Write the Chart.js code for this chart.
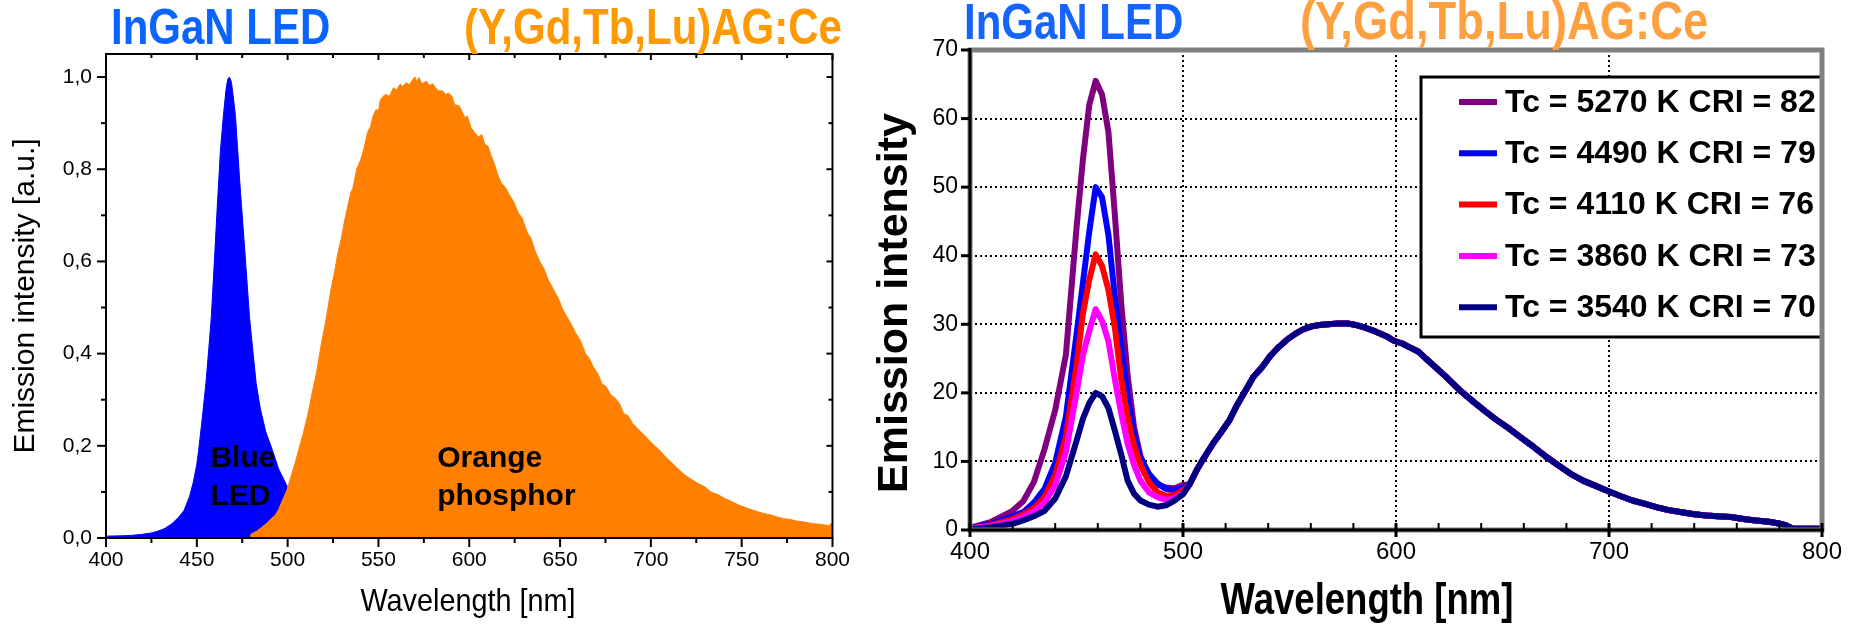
<!DOCTYPE html>
<html>
<head>
<meta charset="utf-8">
<script src="https://cdn.jsdelivr.net/npm/chart.js@4.4.1/dist/chart.umd.min.js"></script>
<style>
  html, body { margin: 0; padding: 0; background: #fff; }
  body { width: 1854px; height: 624px; position: relative; overflow: hidden; }
  canvas { position: absolute; top: 0; }
  #ledChart { left: 0; }
  #cctChart { left: 860px; }
</style>
</head>
<body>
<canvas id="ledChart" width="860" height="624"></canvas>
<canvas id="cctChart" width="994" height="624"></canvas>
<script>
(function () {
    'use strict';

    var SANS = "'Liberation Sans', Arial, sans-serif";

    // ── 左圖：晶片與螢光粉的歸一化發光光譜 ─────────────────
    var blueWl  = [400, 410, 415, 420, 425, 428, 432, 436, 440, 443, 446, 448, 450, 451, 453, 455, 457, 458,
                   460, 461, 462, 463, 464.6, 466, 467, 468, 469, 470, 471.3, 473.7, 476.4, 479, 481, 482.7,
                   485, 488, 491.7, 495, 500, 505, 510, 518, 530, 545, 560, 600];
    var blueVal = [0.004, 0.005, 0.006, 0.008, 0.011, 0.014, 0.02, 0.03, 0.045, 0.06, 0.09, 0.12, 0.16, 0.19,
                   0.26, 0.335, 0.43, 0.48, 0.625, 0.70, 0.77, 0.84, 0.915, 0.97, 0.995, 1.0, 0.99, 0.96, 0.915,
                   0.77, 0.625, 0.48, 0.40, 0.335, 0.28, 0.23, 0.19, 0.15, 0.11, 0.075, 0.05, 0.03, 0.012,
                   0.004, 0.001, 0];

    var orangeWl  = [479.6, 479.7, 483, 486, 489, 491, 493.3, 495, 497, 499.6, 502, 504.1, 506, 508.6, 511,
                     513.1, 516, 518.5, 521, 523.9, 526, 527.5, 529.4, 532, 534.8, 536, 538, 540.2, 542, 544,
                     545.7, 547, 548.8, 550, 551.1, 553, 554.2, 556, 558.3, 560, 562, 563.3, 565.6, 567, 569,
                     570.1, 571, 572.3, 574, 576.4, 578, 580, 581.4, 583, 585.4, 587, 588.5, 590.4, 592, 594.5,
                     596, 597.6, 599, 601, 603.1, 605, 607, 608.5, 610.3, 612, 614, 615.5, 617.6, 620, 622,
                     624.8, 627, 629, 632, 634, 636.5, 639.3, 641, 643.5, 646.5, 649, 651, 653.7, 656, 658.5,
                     661, 664, 666, 668.2, 671, 673, 675.4, 678, 680, 682.7, 685, 687.5, 689.9, 692, 694.5,
                     696, 698.9, 702, 705, 708, 711, 715, 718.8, 722, 726, 729.7, 733, 737, 740.5, 744, 748,
                     751.4, 755, 758, 762.2, 766, 770, 773.1, 777, 780, 783.9, 788, 792, 795, 798.4, 799, 800];
    var orangeVal = [0, 0.008, 0.015, 0.024, 0.034, 0.042, 0.05, 0.062, 0.08, 0.104, 0.135, 0.162, 0.19, 0.227,
                     0.265, 0.307, 0.36, 0.42, 0.47, 0.54, 0.58, 0.615, 0.647, 0.70, 0.749, 0.76, 0.80, 0.82,
                     0.845, 0.88, 0.893, 0.915, 0.93, 0.925, 0.951, 0.96, 0.962, 0.958, 0.977, 0.972, 0.985,
                     0.98, 0.988, 0.983, 0.995, 1.0, 0.99, 0.999, 0.985, 0.991, 0.982, 0.985, 0.977, 0.97,
                     0.97, 0.962, 0.965, 0.959, 0.94, 0.937, 0.925, 0.912, 0.915, 0.89, 0.879, 0.87, 0.875,
                     0.855, 0.85, 0.83, 0.81, 0.79, 0.77, 0.76, 0.745, 0.727, 0.705, 0.695, 0.662, 0.65, 0.62,
                     0.596, 0.585, 0.56, 0.538, 0.52, 0.50, 0.48, 0.465, 0.445, 0.43, 0.40, 0.39, 0.372, 0.355,
                     0.335, 0.328, 0.31, 0.305, 0.292, 0.27, 0.265, 0.249, 0.24, 0.23, 0.225, 0.212, 0.20,
                     0.19, 0.176, 0.165, 0.15, 0.136, 0.128, 0.118, 0.111, 0.10, 0.094, 0.086, 0.08, 0.072,
                     0.067, 0.062, 0.058, 0.053, 0.05, 0.045, 0.042, 0.04, 0.037, 0.035, 0.032, 0.03, 0.029,
                     0.026, 0.032, 0.024];

    var leftXTicks = [400, 450, 500, 550, 600, 650, 700, 750, 800];
    var leftXMinor = [425, 475, 525, 575, 625, 675, 725, 775];
    var leftYTicks = [0, 0.2, 0.4, 0.6, 0.8, 1.0];
    var leftYMinor = [0.1, 0.3, 0.5, 0.7, 0.9];

    var noteText = ['Blue', 'LED', 'Orange', 'phosphor'];
    var noteX    = [457.5, 457.5, 582.4, 582.4];
    var noteY    = [0.154, 0.071, 0.154, 0.071];

    // ── 右圖：五種色溫白光 LED 的光譜 ───────────────────────
    var peakWl   = [400, 410, 420, 425, 430, 435, 440, 445, 450, 453, 456, 459, 462, 465, 468, 471, 474, 477,
                    480, 484, 488, 492, 496, 500];
    var peak5270 = [0.3, 1.2, 2.8, 4.2, 7, 11.8, 17.5, 25.5, 44, 54, 62, 65.5, 63.5, 58, 46, 33, 22.5, 15,
                    10.8, 8, 6.6, 6.2, 6.1, 6.6];
    var peak4490 = [0.3, 0.9, 2, 2.6, 4, 6, 9.8, 16.5, 28.5, 36, 43.5, 50, 48.5, 43, 34, 26.6, 19.5, 14,
                    10.5, 8.2, 6.8, 6, 5.8, 6.2];
    var peak4110 = [0.2, 0.7, 1.6, 2.3, 3.2, 4.8, 8, 13.5, 24, 31.5, 36.5, 40.2, 38.5, 35, 29.5, 22, 16.5,
                    12.3, 9.5, 7, 5.5, 5, 5.1, 5.8];
    var peak3860 = [0.2, 0.6, 1.3, 1.9, 2.7, 4, 6.5, 11.3, 20, 25.5, 29, 32.2, 30.5, 27.5, 22, 17, 12.6, 9.5,
                    7.2, 5.5, 4.8, 4.4, 4.6, 5.4];
    var peak3540 = [0.1, 0.4, 0.9, 1.4, 2, 2.8, 4.6, 7.8, 13, 16.2, 18.5, 20, 19.5, 17.8, 14.5, 11, 7.2, 5.3,
                    4.3, 3.7, 3.4, 3.6, 4.3, 5.2];

    // 黃光段五條曲線幾乎重合，共用一組讀值
    var tailWl  = [503, 506.4, 510, 514.1, 518, 521.8, 525, 529.5, 533, 537.3, 541, 545, 549, 552.7, 556,
                   560.4, 564, 568.1, 573, 577.8, 581, 585.5, 590, 595.2, 599, 602.9, 606, 610.6, 614, 618.3,
                   624, 629.9, 636, 641.5, 647, 653.1, 659, 664.7, 670, 676.3, 682, 687.8, 694, 699.4, 705,
                   711, 717, 722.6, 728, 734.2, 740, 745.7, 751, 757.3, 763, 768.9, 775, 780.5, 783, 786.3,
                   790, 795, 800];
    var tailVal = [6.6, 8.7, 10.6, 12.6, 14.3, 16, 18, 20.4, 22.3, 23.8, 25.4, 26.7, 27.8, 28.6, 29.2, 29.7,
                   29.9, 30, 30.1, 30.1, 29.9, 29.5, 29, 28.3, 27.6, 27.2, 26.7, 26, 25, 23.8, 22.2, 20.4,
                   18.8, 17.4, 16.1, 14.8, 13.4, 12.1, 10.8, 9.4, 8.2, 7.2, 6.4, 5.7, 5, 4.3, 3.8, 3.3, 2.9,
                   2.6, 2.3, 2.1, 2, 1.9, 1.6, 1.4, 1.2, 0.9, 0.7, 0.2, 0.2, 0.2, 0.2];

    var seriesLabels = ['Tc = 5270 K CRI = 82', 'Tc = 4490 K CRI = 79', 'Tc = 4110 K CRI = 76',
                        'Tc = 3860 K CRI = 73', 'Tc = 3540 K CRI = 70'];
    var seriesColors = ['#800080', '#0000ff', '#ff0000', '#ff00ff', '#000080'];
    var seriesPeaks  = [peak5270, peak4490, peak4110, peak3860, peak3540];

    var rightXTicks = [400, 500, 600, 700, 800];
    var rightXMinor = [420, 440, 460, 480, 520, 540, 560, 580, 620, 640, 660, 680, 720, 740, 760, 780];
    var rightYTicks = [0, 10, 20, 30, 40, 50, 60, 70];

    // ── 工具函式 ─────────────────────────────────────────────
    function toXY(xs, ys) {
        return xs.map(function (x, i) { return { x: x, y: ys[i] }; });
    }

    function tickList(values) {
        return function (scale) { scale.ticks = values.map(function (v) { return { value: v }; }); };
    }

    function seg(ctx, x1, y1, x2, y2) {
        ctx.beginPath(); ctx.moveTo(x1, y1); ctx.lineTo(x2, y2); ctx.stroke();
    }

    // 沒有窄體字型可用，改以水平縮放模擬 Arial Narrow
    function squeeze(ctx, text, x, y, sx, rot) {
        ctx.save();
        ctx.translate(x, y);
        if (rot) ctx.rotate(rot);
        ctx.scale(sx, 1);
        ctx.fillText(text, 0, 0);
        ctx.restore();
    }

    function headers(items) {
        return {
            id: 'headers',
            afterDraw: function (chart) {
                var ctx = chart.ctx;
                ctx.save();
                items.forEach(function (h) {
                    ctx.font = h.font;
                    ctx.fillStyle = h.color;
                    ctx.textAlign = h.align || 'left';
                    ctx.textBaseline = h.baseline || 'alphabetic';
                    squeeze(ctx, h.text, h.x, h.y, h.sx || 1, h.rot || 0);
                });
                ctx.restore();
            }
        };
    }

    // 左圖邊框：四邊刻度，左下朝外、右上朝內
    var ledFrame = {
        id: 'ledFrame',
        afterDatasetsDraw: function (chart) {
            var ctx = chart.ctx, a = chart.chartArea, xs = chart.scales.x, ys = chart.scales.y;
            ctx.save();
            ctx.fillStyle = '#000';
            ctx.font = 'bold 30px ' + SANS;
            ctx.textBaseline = 'alphabetic';
            noteText.forEach(function (t, i) {
                ctx.fillText(t, xs.getPixelForValue(noteX[i]), ys.getPixelForValue(noteY[i]));
            });

            ctx.strokeStyle = '#000';
            ctx.lineWidth = 2;
            ctx.strokeRect(a.left, a.top, a.right - a.left, a.bottom - a.top);
            leftXTicks.forEach(function (v) {
                var x = xs.getPixelForValue(v);
                seg(ctx, x, a.bottom, x, a.bottom + 9);
                seg(ctx, x, a.top, x, a.top + 6);
            });
            leftXMinor.forEach(function (v) {
                var x = xs.getPixelForValue(v);
                seg(ctx, x, a.bottom, x, a.bottom + 5);
                seg(ctx, x, a.top, x, a.top + 4);
            });
            leftYTicks.forEach(function (v) {
                var y = ys.getPixelForValue(v);
                seg(ctx, a.left - 9, y, a.left, y);
                seg(ctx, a.right - 6, y, a.right, y);
            });
            leftYMinor.forEach(function (v) {
                var y = ys.getPixelForValue(v);
                seg(ctx, a.left - 5, y, a.left, y);
                seg(ctx, a.right - 4, y, a.right, y);
            });
            ctx.restore();
        }
    };

    // 右圖：圖例方框與灰色外框、黑色座標軸
    var cctFrame = {
        id: 'cctFrame',
        afterDatasetsDraw: function (chart) {
            var ctx = chart.ctx, a = chart.chartArea, xs = chart.scales.x, ys = chart.scales.y;
            var w = 401, h = 260, left = a.right - w, top = a.top + 27;
            ctx.save();
            ctx.fillStyle = '#fff';
            ctx.fillRect(left, top, w, h);
            ctx.strokeStyle = '#000';
            ctx.lineWidth = 3;
            ctx.strokeRect(left, top, w, h);
            ctx.font = 'bold 32px ' + SANS;
            ctx.textBaseline = 'middle';
            ctx.fillStyle = '#000';
            seriesLabels.forEach(function (lbl, i) {
                var y = top + 25 + i * 51.3;
                ctx.strokeStyle = seriesColors[i];
                ctx.lineWidth = 6;
                seg(ctx, left + 38, y, left + 76, y);
                ctx.fillText(lbl, left + 84, y + 1);
            });

            ctx.strokeStyle = '#808080';
            ctx.lineWidth = 5;
            ctx.strokeRect(a.left, a.top, a.right - a.left, a.bottom - a.top);

            ctx.strokeStyle = '#000';
            ctx.lineWidth = 3;
            seg(ctx, a.left, a.top - 2, a.left, a.bottom + 1);
            seg(ctx, a.left - 1, a.bottom, a.right + 2, a.bottom);
            rightYTicks.forEach(function (v) {
                var y = ys.getPixelForValue(v);
                seg(ctx, a.left - 9, y, a.left, y);
            });
            rightXTicks.forEach(function (v) {
                var x = xs.getPixelForValue(v);
                seg(ctx, x, a.bottom - 7, x, a.bottom + 7);
            });
            ctx.lineWidth = 2;
            rightXMinor.forEach(function (v) {
                var x = xs.getPixelForValue(v);
                seg(ctx, x, a.bottom, x, a.bottom - 7);
            });
            ctx.restore();
        }
    };

    // ── 左圖 ─────────────────────────────────────────────────
    new Chart(document.getElementById('ledChart'), {
        type: 'line',
        data: {
            datasets: [{
                label: 'Orange phosphor',
                data: toXY(orangeWl, orangeVal),
                borderColor: '#ff8000',
                backgroundColor: '#ff8000',
                borderWidth: 1,
                pointRadius: 0,
                fill: 'origin',
                order: 1
            }, {
                label: 'Blue LED',
                data: toXY(blueWl, blueVal),
                borderColor: '#0000ff',
                backgroundColor: '#0000ff',
                borderWidth: 1,
                pointRadius: 0,
                fill: 'origin',
                order: 2
            }]
        },
        options: {
            responsive: false,
            animation: false,
            events: [],
            layout: { padding: { left: 0, right: 17, top: 54, bottom: 0 } },
            plugins: { legend: { display: false }, tooltip: { enabled: false } },
            scales: {
                x: {
                    type: 'linear', min: 400, max: 800,
                    afterBuildTicks: tickList(leftXTicks),
                    afterFit: function (s) { s.height = 86; },
                    grid: { display: false, drawTicks: false },
                    border: { display: false },
                    ticks: { padding: 10, color: '#000', maxRotation: 0, font: { family: SANS, size: 21 } }
                },
                y: {
                    type: 'linear', min: 0, max: 1.05,
                    afterBuildTicks: tickList(leftYTicks),
                    afterFit: function (s) { s.width = 106; },
                    grid: { display: false, drawTicks: false },
                    border: { display: false },
                    ticks: { padding: 14, color: '#000', font: { family: SANS, size: 21 },
                             callback: function (v) { return v.toFixed(1).replace('.', ','); } },
                    title: { display: true, text: 'Emission intensity [a.u.]', color: '#000',
                             font: { family: SANS, size: 30 }, padding: { top: 8, bottom: 0 } }
                }
            }
        },
        plugins: [ledFrame, headers([
            { text: 'InGaN LED', x: 111, y: 44, sx: 0.84, color: '#0a64ff', font: 'bold 50px ' + SANS },
            { text: '(Y,Gd,Tb,Lu)AG:Ce', x: 464, y: 44, sx: 0.84, color: '#ff9900', font: 'bold 50px ' + SANS },
            { text: 'Wavelength [nm]', x: 468, y: 602, sx: 0.9, align: 'center', baseline: 'middle',
              color: '#000', font: '32px ' + SANS }
        ])]
    });

    // ── 右圖 ─────────────────────────────────────────────────
    var cctSets = seriesPeaks.map(function (vals, i) {
        return {
            label: seriesLabels[i],
            data: toXY(peakWl.concat(tailWl), vals.concat(tailVal)),
            borderColor: seriesColors[i],
            backgroundColor: seriesColors[i],
            borderWidth: 6,
            borderJoinStyle: 'round',
            borderCapStyle: 'round',
            pointRadius: 0,
            fill: false,
            tension: 0,
            order: seriesPeaks.length - i
        };
    });

    new Chart(document.getElementById('cctChart'), {
        type: 'line',
        data: { datasets: cctSets },
        options: {
            responsive: false,
            animation: false,
            events: [],
            layout: { padding: { left: 0, right: 32, top: 50, bottom: 0 } },
            plugins: { legend: { display: false }, tooltip: { enabled: false } },
            scales: {
                x: {
                    type: 'linear', min: 400, max: 800,
                    afterBuildTicks: tickList(rightXTicks),
                    afterFit: function (s) { s.height = 94; },
                    grid: {
                        drawTicks: false, lineWidth: 2,
                        color: function (c) {
                            var v = c.tick && c.tick.value;
                            return (v === 400 || v === 800) ? 'rgba(0,0,0,0)' : '#000';
                        }
                    },
                    border: { display: false, dash: [2, 3] },
                    ticks: { padding: 8, color: '#000', maxRotation: 0, font: { family: SANS, size: 24 } }
                },
                y: {
                    type: 'linear', min: 0, max: 70,
                    afterBuildTicks: tickList(rightYTicks),
                    afterFit: function (s) { s.width = 110; },
                    grid: {
                        drawTicks: false, lineWidth: 2,
                        color: function (c) {
                            var v = c.tick && c.tick.value;
                            return (v === 0 || v === 70) ? 'rgba(0,0,0,0)' : '#000';
                        }
                    },
                    border: { display: false, dash: [2, 3] },
                    ticks: { padding: 12, color: '#000', font: { family: SANS, size: 23 } }
                }
            }
        },
        plugins: [cctFrame, headers([
            { text: 'InGaN LED', x: 104, y: 39, sx: 0.84, color: '#1464ff', font: 'bold 50px ' + SANS },
            { text: '(Y,Gd,Tb,Lu)AG:Ce', x: 440, y: 39, sx: 0.84, color: '#ffa040', font: 'bold 54px ' + SANS },
            { text: 'Wavelength [nm]', x: 507, y: 602, sx: 0.83, align: 'center', baseline: 'middle',
              color: '#000', font: 'bold 44px ' + SANS },
            { text: 'Emission intensity', x: 35, y: 303, rot: -Math.PI / 2, align: 'center', baseline: 'middle',
              color: '#000', font: 'bold 43px ' + SANS }
        ])]
    });
})();
</script>
</body>
</html>
